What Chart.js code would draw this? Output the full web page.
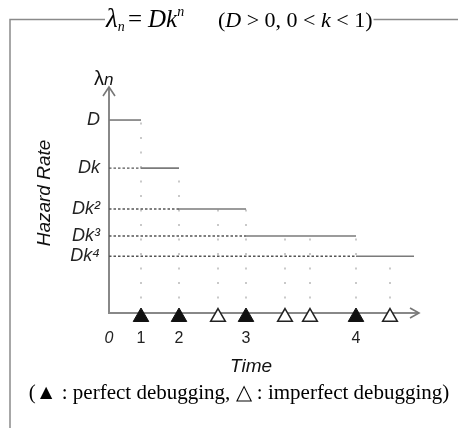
<!DOCTYPE html>
<html><head><meta charset="utf-8">
<script src="https://cdn.jsdelivr.net/npm/chart.js@4"></script>
<style>html,body{margin:0;padding:0;background:#fff;}#wrap{position:relative;width:458px;height:428px;}</style>
</head><body><div id="wrap"><canvas id="c" width="458" height="428"></canvas></div>
<script>
// ---- data ----
const levelValues = [1, 0.751, 0.539, 0.399, 0.294];      // D, Dk, Dk², Dk³, Dk⁴ (D = 1)
const levelLabels = ['D', 'Dk', 'Dk²', 'Dk³', 'Dk⁴'];
const perfectTimes = [3.2, 7.0, 13.7, 24.7];              // ▲ perfect debugging
const imperfectTimes = [10.9, 17.6, 20.1, 28.1];          // △ imperfect debugging
const lastLevelEnd = 30.5;
const xTickValues = [0, 3.2, 7.0, 13.7, 24.7];
const xTickLabels = ['0', '1', '2', '3', '4'];
const xAxisMax = 30.9;
const yAxisMax = 1.166;

const SANS = "'Liberation Sans', Arial, sans-serif";
const SERIF = "'Liberation Serif', 'Times New Roman', serif";

const levelStarts = [0, ...perfectTimes];
const levelEnds = [...perfectTimes, lastLevelEnd];
const levelAt = t => levelValues[perfectTimes.filter(p => p < t).length];

const datasets = [];
datasets.push({ data: perfectTimes.map(t => ({x: t, y: 0})), pointStyle: 'triangle', pointRadius: 9,
  backgroundColor: '#111', borderColor: '#111', borderWidth: 1, showLine: false, clip: false, order: 0, markerDrop: 4 });
datasets.push({ data: imperfectTimes.map(t => ({x: t, y: 0})), pointStyle: 'triangle', pointRadius: 8.5,
  backgroundColor: '#fff', borderColor: '#222', borderWidth: 1.5, showLine: false, clip: false, order: 0, markerDrop: 4 });
levelValues.forEach((v, i) => {
  datasets.push({ data: [{x: levelStarts[i], y: v}, {x: levelEnds[i], y: v}], showLine: true,
    borderColor: '#7a7a7a', borderWidth: 1.6, pointRadius: 0, order: 2 });
  if (i > 0) datasets.push({ data: [{x: 0, y: v}, {x: levelStarts[i], y: v}], showLine: true,
    borderColor: '#555', borderWidth: 1.3, borderDash: [2.5, 2], pointRadius: 0, order: 3 });
});
[...perfectTimes, ...imperfectTimes].forEach(t => {
  datasets.push({ data: [{x: t, y: 0}, {x: t, y: levelAt(t)}], showLine: true,
    borderColor: '#b8b8b8', borderWidth: 1.5, borderDash: [2, 12.5], pointRadius: 0, order: 4 });
});

function runs(ctx, list, x, y) {
  list.forEach(r => {
    ctx.font = r.font;
    ctx.fillText(r.text, x, y + (r.dy || 0));
    x += ctx.measureText(r.text).width;
  });
  return x;
}

const decor = {
  id: 'decor',
  afterDatasetsUpdate(chart) {
    chart.data.datasets.forEach((ds, i) => {
      if (ds.markerDrop) chart.getDatasetMeta(i).data.forEach(p => { p.y += ds.markerDrop; });
    });
  },
  afterDraw(chart) {
    const {ctx, chartArea: a} = chart;
    ctx.save();
    // axis arrowheads
    ctx.strokeStyle = '#777'; ctx.lineWidth = 1.6;
    ctx.beginPath();
    ctx.moveTo(a.left - 6, a.top + 8); ctx.lineTo(a.left, a.top - 1); ctx.lineTo(a.left + 6, a.top + 8);
    ctx.moveTo(a.right - 8, a.bottom - 5); ctx.lineTo(a.right + 1, a.bottom); ctx.lineTo(a.right - 8, a.bottom + 5);
    ctx.stroke();

    // title
    ctx.fillStyle = '#000'; ctx.textBaseline = 'alphabetic'; ctx.textAlign = 'left';
    const ty = 27;
    const titleStart = 106;
    runs(ctx, [{text: 'λ', font: `italic 27px ${SERIF}`}, {text: 'n', font: `italic 14px ${SERIF}`, dy: 4}], titleStart, ty);
    runs(ctx, [{text: '=', font: `25px ${SERIF}`}], 128, ty);
    runs(ctx, [{text: 'Dk', font: `italic 25px ${SERIF}`}, {text: 'n', font: `italic 14px ${SERIF}`, dy: -11}], 148, ty);
    const titleEnd = runs(ctx, [
      {text: '(', font: `22px ${SERIF}`}, {text: 'D', font: `italic 22px ${SERIF}`},
      {text: ' > 0, 0 < ', font: `22px ${SERIF}`}, {text: 'k', font: `italic 22px ${SERIF}`},
      {text: ' < 1)', font: `22px ${SERIF}`}], 218, ty);

    // frame
    ctx.strokeStyle = '#8a8a8a'; ctx.lineWidth = 1.5;
    ctx.beginPath();
    ctx.moveTo(10, 428); ctx.lineTo(10, 19.5); ctx.lineTo(titleStart - 1, 19.5);
    ctx.moveTo(titleEnd + 1, 19.5); ctx.lineTo(458, 19.5);
    ctx.stroke();

    // y axis symbol
    ctx.fillStyle = '#111';
    runs(ctx, [{text: 'λ', font: `20px ${SANS}`}, {text: 'n', font: `italic 17px ${SANS}`}], a.left - 15, a.top - 3);

    // axis titles
    ctx.textAlign = 'center'; ctx.textBaseline = 'middle';
    ctx.font = `italic 19px ${SANS}`;
    ctx.fillText('Time', 251, 367);
    ctx.save(); ctx.translate(45, 193); ctx.rotate(-Math.PI / 2); ctx.fillText('Hazard Rate', 0, 0); ctx.restore();

    // caption
    ctx.fillStyle = '#000';
    ctx.font = `21px ${SERIF}`;
    ctx.fillText('(▲ : perfect debugging, △ : imperfect debugging)', 239, 393);
    ctx.restore();
  }
};

new Chart(document.getElementById('c'), {
  type: 'scatter',
  data: { datasets },
  plugins: [decor],
  options: {
    responsive: false, animation: false, devicePixelRatio: 1,
    events: [],
    layout: { padding: { left: 0, top: 88, right: 40, bottom: 75 } },
    plugins: { legend: { display: false }, tooltip: { enabled: false } },
    scales: {
      x: {
        type: 'linear', min: 0, max: xAxisMax,
        afterFit: s => { s.height = 40; },
        afterBuildTicks: s => { s.ticks = xTickValues.map(v => ({value: v})); },
        grid: { display: false, drawTicks: false },
        border: { display: true, color: '#888', width: 2 },
        ticks: {
          autoSkip: false, maxRotation: 0, padding: 16, color: '#222',
          callback: v => xTickLabels[xTickValues.indexOf(v)],
          font: c => (c.index === 0 ? { family: SANS, size: 16, style: 'italic' } : { family: SANS, size: 16 })
        }
      },
      y: {
        type: 'linear', min: 0, max: yAxisMax,
        afterFit: s => { s.width = 109; },
        afterBuildTicks: s => { s.ticks = levelValues.map(v => ({value: v})); },
        grid: { display: false, drawTicks: false },
        border: { display: true, color: '#888', width: 2 },
        ticks: {
          autoSkip: false, padding: 9, color: '#222',
          callback: v => levelLabels[levelValues.indexOf(v)],
          font: { family: SANS, size: 18, style: 'italic' }
        }
      }
    }
  }
});
</script></body></html>
